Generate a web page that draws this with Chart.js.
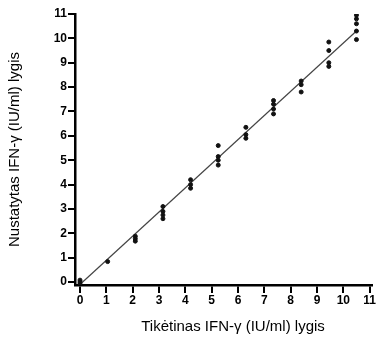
<!DOCTYPE html>
<html>
<head>
<meta charset="utf-8">
<script src="https://cdn.jsdelivr.net/npm/chart.js@4.4.0/dist/chart.umd.min.js"></script>
<style>
  html, body { margin: 0; padding: 0; background: #fff; }
  #wrap { width: 378px; height: 338px; }
</style>
</head>
<body>
<div id="wrap"><canvas id="ifnChart" width="378" height="338"></canvas></div>
<script>
const groupX = [0, 1.05, 2.1, 3.15, 4.2, 5.25, 6.3, 7.35, 8.4, 9.45, 10.5];
const groupY = [
  [-0.08, 0.0, 0.08],
  [0.84],
  [1.68, 1.78, 1.88],
  [2.6, 2.75, 2.9, 3.1],
  [3.85, 4.0, 4.2],
  [4.8, 5.0, 5.15, 5.6],
  [5.9, 6.05, 6.35],
  [6.9, 7.1, 7.3, 7.45],
  [7.8, 8.1, 8.25],
  [8.85, 9.0, 9.5, 9.85],
  [9.95, 10.3, 10.6, 10.8, 10.95]
];
// fitted line end points
const fitX = [0.05, 10.5];
const fitY = [-0.05, 10.3];
const xTicks = [0, 1, 2, 3, 4, 5, 6, 7, 8, 9, 10, 11];
const yTicks = [0, 1, 2, 3, 4, 5, 6, 7, 8, 9, 10, 11];
const xTitle = 'Tikėtinas IFN-γ (IU/ml) lygis';
const yTitle = 'Nustatytas IFN-γ (IU/ml) lygis';

document.addEventListener('DOMContentLoaded', () => {
    const points = [];
    groupX.forEach((x, i) => {
        groupY[i].forEach(y => points.push({ x: x, y: y }));
    });
    const fitLine = fitX.map((x, i) => ({ x: x, y: fitY[i] }));

    const fontFamily = '"Liberation Sans", Arial, sans-serif';
    const tickFont = { family: fontFamily, size: 12, weight: 'bold' };
    const titleFont = { family: fontFamily, size: 15 };

    // x title sits a little right of the plot centre in the original, so draw it by hand
    const xTitlePlugin = {
        id: 'xTitlePlugin',
        afterDraw(chart) {
            const ctx = chart.ctx;
            ctx.save();
            ctx.font = '15px ' + fontFamily;
            ctx.fillStyle = '#000';
            ctx.textAlign = 'center';
            ctx.textBaseline = 'middle';
            ctx.fillText(xTitle, 233, 327);
            ctx.restore();
        }
    };

    new Chart(document.getElementById('ifnChart').getContext('2d'), {
        type: 'scatter',
        data: {
            datasets: [
                {
                    label: 'Measurements',
                    data: points,
                    backgroundColor: '#111',
                    borderColor: '#111',
                    pointRadius: 2,
                    pointHoverRadius: 2
                },
                {
                    type: 'line',
                    label: 'Fit',
                    data: fitLine,
                    borderColor: '#444',
                    borderWidth: 1.2,
                    pointRadius: 0,
                    fill: false
                }
            ]
        },
        options: {
            responsive: false,
            animation: false,
            layout: { padding: { top: 14, right: 6, left: 0, bottom: 0 } },
            plugins: { legend: { display: false }, tooltip: { enabled: false } },
            scales: {
                x: {
                    type: 'linear',
                    min: -0.19,
                    max: 11.09,
                    afterBuildTicks: scale => { scale.ticks = xTicks.map(v => ({ value: v })); },
                    afterFit: scale => { scale.height = 53; },
                    grid: { drawOnChartArea: false, drawTicks: true, tickLength: 8, color: '#000', lineWidth: 2 },
                    border: { display: true, color: '#000', width: 2.5 },
                    ticks: { color: '#000', font: tickFont, padding: 0, maxRotation: 0 }
                },
                y: {
                    type: 'linear',
                    min: -0.12,
                    max: 11,
                    afterBuildTicks: scale => { scale.ticks = yTicks.map(v => ({ value: v })); },
                    afterFit: scale => { scale.width = 75; },
                    grid: { drawOnChartArea: false, drawTicks: true, tickLength: 7, color: '#000', lineWidth: 2 },
                    border: { display: true, color: '#000', width: 2.5 },
                    ticks: { color: '#000', font: tickFont, padding: 1 },
                    title: {
                        display: true,
                        text: yTitle,
                        color: '#000',
                        font: titleFont,
                        padding: { top: 6, bottom: 0 }
                    }
                }
            }
        },
        plugins: [xTitlePlugin]
    });
});
</script>
</body>
</html>
